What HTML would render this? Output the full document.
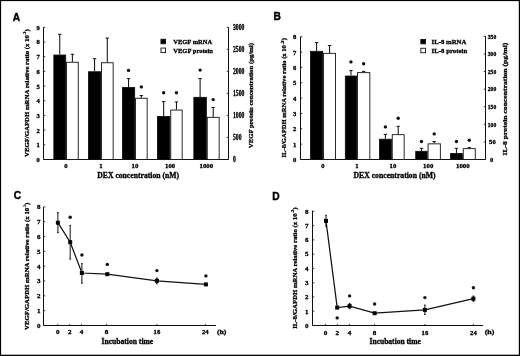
<!DOCTYPE html>
<html><head><meta charset="utf-8"><style>
html,body{margin:0;padding:0;background:#fff;}
.wrap{width:520px;height:356px;position:relative;overflow:hidden;background:#fff;}
svg{display:block;will-change:transform;}
</style></head><body><div class="wrap">
<svg width="520" height="356" viewBox="0 0 520 356">
<rect x="0" y="0" width="520" height="356" fill="#fff"/>
<text x="12.8" y="20.6" font-size="10.2" font-family="&quot;Liberation Sans&quot;, sans-serif" font-weight="bold" stroke="#000" stroke-width="0.45">A</text>
<line x1="43.50" y1="27.30" x2="43.50" y2="159.50" stroke="#111" stroke-width="1"/>
<line x1="43.50" y1="159.50" x2="228.50" y2="159.50" stroke="#111" stroke-width="1"/>
<line x1="228.50" y1="27.30" x2="228.50" y2="159.50" stroke="#111" stroke-width="1"/>
<line x1="43.50" y1="159.50" x2="45.30" y2="159.50" stroke="#111" stroke-width="0.8"/>
<text x="39.9" y="162.0" font-size="6.6" text-anchor="end" font-family="&quot;Liberation Serif&quot;, serif" font-weight="bold" fill="#000" stroke="#000" stroke-width="0.3">0</text>
<line x1="43.50" y1="144.81" x2="45.30" y2="144.81" stroke="#111" stroke-width="0.8"/>
<text x="39.9" y="147.31" font-size="6.6" text-anchor="end" font-family="&quot;Liberation Serif&quot;, serif" font-weight="bold" fill="#000" stroke="#000" stroke-width="0.3">1</text>
<line x1="43.50" y1="130.12" x2="45.30" y2="130.12" stroke="#111" stroke-width="0.8"/>
<text x="39.9" y="132.62" font-size="6.6" text-anchor="end" font-family="&quot;Liberation Serif&quot;, serif" font-weight="bold" fill="#000" stroke="#000" stroke-width="0.3">2</text>
<line x1="43.50" y1="115.43" x2="45.30" y2="115.43" stroke="#111" stroke-width="0.8"/>
<text x="39.9" y="117.93" font-size="6.6" text-anchor="end" font-family="&quot;Liberation Serif&quot;, serif" font-weight="bold" fill="#000" stroke="#000" stroke-width="0.3">3</text>
<line x1="43.50" y1="100.74" x2="45.30" y2="100.74" stroke="#111" stroke-width="0.8"/>
<text x="39.9" y="103.24" font-size="6.6" text-anchor="end" font-family="&quot;Liberation Serif&quot;, serif" font-weight="bold" fill="#000" stroke="#000" stroke-width="0.3">4</text>
<line x1="43.50" y1="86.06" x2="45.30" y2="86.06" stroke="#111" stroke-width="0.8"/>
<text x="39.9" y="88.56" font-size="6.6" text-anchor="end" font-family="&quot;Liberation Serif&quot;, serif" font-weight="bold" fill="#000" stroke="#000" stroke-width="0.3">5</text>
<line x1="43.50" y1="71.37" x2="45.30" y2="71.37" stroke="#111" stroke-width="0.8"/>
<text x="39.9" y="73.87" font-size="6.6" text-anchor="end" font-family="&quot;Liberation Serif&quot;, serif" font-weight="bold" fill="#000" stroke="#000" stroke-width="0.3">6</text>
<line x1="43.50" y1="56.68" x2="45.30" y2="56.68" stroke="#111" stroke-width="0.8"/>
<text x="39.9" y="59.18" font-size="6.6" text-anchor="end" font-family="&quot;Liberation Serif&quot;, serif" font-weight="bold" fill="#000" stroke="#000" stroke-width="0.3">7</text>
<line x1="43.50" y1="41.99" x2="45.30" y2="41.99" stroke="#111" stroke-width="0.8"/>
<text x="39.9" y="44.49" font-size="6.6" text-anchor="end" font-family="&quot;Liberation Serif&quot;, serif" font-weight="bold" fill="#000" stroke="#000" stroke-width="0.3">8</text>
<line x1="43.50" y1="27.30" x2="45.30" y2="27.30" stroke="#111" stroke-width="0.8"/>
<text x="39.9" y="29.8" font-size="6.6" text-anchor="end" font-family="&quot;Liberation Serif&quot;, serif" font-weight="bold" fill="#000" stroke="#000" stroke-width="0.3">9</text>
<line x1="226.70" y1="159.50" x2="228.50" y2="159.50" stroke="#111" stroke-width="0.8"/>
<text x="233.0" y="162.0" font-size="7.2" text-anchor="start" textLength="2.83" lengthAdjust="spacingAndGlyphs" font-family="&quot;Liberation Serif&quot;, serif" font-weight="bold" fill="#000" stroke="#000" stroke-width="0.3">0</text>
<line x1="226.70" y1="137.47" x2="228.50" y2="137.47" stroke="#111" stroke-width="0.8"/>
<text x="233.0" y="139.97" font-size="7.2" text-anchor="start" textLength="8.49" lengthAdjust="spacingAndGlyphs" font-family="&quot;Liberation Serif&quot;, serif" font-weight="bold" fill="#000" stroke="#000" stroke-width="0.3">500</text>
<line x1="226.70" y1="115.43" x2="228.50" y2="115.43" stroke="#111" stroke-width="0.8"/>
<text x="233.0" y="117.93" font-size="7.2" text-anchor="start" textLength="11.32" lengthAdjust="spacingAndGlyphs" font-family="&quot;Liberation Serif&quot;, serif" font-weight="bold" fill="#000" stroke="#000" stroke-width="0.3">1000</text>
<line x1="226.70" y1="93.40" x2="228.50" y2="93.40" stroke="#111" stroke-width="0.8"/>
<text x="233.0" y="95.9" font-size="7.2" text-anchor="start" textLength="11.32" lengthAdjust="spacingAndGlyphs" font-family="&quot;Liberation Serif&quot;, serif" font-weight="bold" fill="#000" stroke="#000" stroke-width="0.3">1500</text>
<line x1="226.70" y1="71.37" x2="228.50" y2="71.37" stroke="#111" stroke-width="0.8"/>
<text x="233.0" y="73.87" font-size="7.2" text-anchor="start" textLength="11.32" lengthAdjust="spacingAndGlyphs" font-family="&quot;Liberation Serif&quot;, serif" font-weight="bold" fill="#000" stroke="#000" stroke-width="0.3">2000</text>
<line x1="226.70" y1="49.33" x2="228.50" y2="49.33" stroke="#111" stroke-width="0.8"/>
<text x="233.0" y="51.83" font-size="7.2" text-anchor="start" textLength="11.32" lengthAdjust="spacingAndGlyphs" font-family="&quot;Liberation Serif&quot;, serif" font-weight="bold" fill="#000" stroke="#000" stroke-width="0.3">2500</text>
<line x1="226.70" y1="27.30" x2="228.50" y2="27.30" stroke="#111" stroke-width="0.8"/>
<text x="233.0" y="29.8" font-size="7.2" text-anchor="start" textLength="11.32" lengthAdjust="spacingAndGlyphs" font-family="&quot;Liberation Serif&quot;, serif" font-weight="bold" fill="#000" stroke="#000" stroke-width="0.3">3000</text>
<line x1="59.75" y1="54.60" x2="59.75" y2="34.30" stroke="#111" stroke-width="1.05"/>
<line x1="58.05" y1="34.30" x2="61.45" y2="34.30" stroke="#111" stroke-width="1.0"/>
<line x1="72.40" y1="61.80" x2="72.40" y2="54.30" stroke="#111" stroke-width="1.05"/>
<line x1="70.70" y1="54.30" x2="74.10" y2="54.30" stroke="#111" stroke-width="1.0"/>
<rect x="53.85" y="55.05" width="11.80" height="104.50" fill="#000" stroke="#111" stroke-width="0.9"/>
<rect x="66.55" y="62.25" width="11.70" height="97.30" fill="#fff" stroke="#111" stroke-width="0.9"/>
<line x1="94.55" y1="71.30" x2="94.55" y2="58.70" stroke="#111" stroke-width="1.05"/>
<line x1="92.85" y1="58.70" x2="96.25" y2="58.70" stroke="#111" stroke-width="1.0"/>
<line x1="107.30" y1="62.30" x2="107.30" y2="38.10" stroke="#111" stroke-width="1.05"/>
<line x1="105.60" y1="38.10" x2="109.00" y2="38.10" stroke="#111" stroke-width="1.0"/>
<rect x="88.55" y="71.75" width="12.00" height="87.80" fill="#000" stroke="#111" stroke-width="0.9"/>
<rect x="101.45" y="62.75" width="11.70" height="96.80" fill="#fff" stroke="#111" stroke-width="0.9"/>
<line x1="128.55" y1="87.10" x2="128.55" y2="78.60" stroke="#111" stroke-width="1.05"/>
<line x1="126.85" y1="78.60" x2="130.25" y2="78.60" stroke="#111" stroke-width="1.0"/>
<line x1="141.35" y1="97.80" x2="141.35" y2="95.60" stroke="#111" stroke-width="1.05"/>
<line x1="139.65" y1="95.60" x2="143.05" y2="95.60" stroke="#111" stroke-width="1.0"/>
<rect x="122.45" y="87.55" width="12.20" height="72.00" fill="#000" stroke="#111" stroke-width="0.9"/>
<rect x="135.55" y="98.25" width="11.60" height="61.30" fill="#fff" stroke="#111" stroke-width="0.9"/>
<circle cx="128.55" cy="70.40" r="1.7" fill="#111"/>
<circle cx="141.35" cy="86.90" r="1.7" fill="#111"/>
<line x1="163.65" y1="116.00" x2="163.65" y2="101.60" stroke="#111" stroke-width="1.05"/>
<line x1="161.95" y1="101.60" x2="165.35" y2="101.60" stroke="#111" stroke-width="1.0"/>
<line x1="176.45" y1="109.60" x2="176.45" y2="101.90" stroke="#111" stroke-width="1.05"/>
<line x1="174.75" y1="101.90" x2="178.15" y2="101.90" stroke="#111" stroke-width="1.0"/>
<rect x="157.45" y="116.45" width="12.40" height="43.10" fill="#000" stroke="#111" stroke-width="0.9"/>
<rect x="170.75" y="110.05" width="11.40" height="49.50" fill="#fff" stroke="#111" stroke-width="0.9"/>
<circle cx="163.65" cy="92.80" r="1.7" fill="#111"/>
<circle cx="176.45" cy="92.80" r="1.7" fill="#111"/>
<line x1="200.10" y1="96.90" x2="200.10" y2="78.60" stroke="#111" stroke-width="1.05"/>
<line x1="198.40" y1="78.60" x2="201.80" y2="78.60" stroke="#111" stroke-width="1.0"/>
<line x1="213.20" y1="116.90" x2="213.20" y2="107.50" stroke="#111" stroke-width="1.05"/>
<line x1="211.50" y1="107.50" x2="214.90" y2="107.50" stroke="#111" stroke-width="1.0"/>
<rect x="193.85" y="97.35" width="12.50" height="62.20" fill="#000" stroke="#111" stroke-width="0.9"/>
<rect x="207.25" y="117.35" width="11.90" height="42.20" fill="#fff" stroke="#111" stroke-width="0.9"/>
<circle cx="200.10000000000002" cy="70.10" r="1.7" fill="#111"/>
<circle cx="213.2" cy="99.60" r="1.7" fill="#111"/>
<text x="66" y="167.8" font-size="6.6" text-anchor="middle" font-family="&quot;Liberation Serif&quot;, serif" font-weight="bold" fill="#000" stroke="#000" stroke-width="0.3">0</text>
<text x="100.8" y="167.8" font-size="6.6" text-anchor="middle" font-family="&quot;Liberation Serif&quot;, serif" font-weight="bold" fill="#000" stroke="#000" stroke-width="0.3">1</text>
<text x="135" y="167.8" font-size="6.6" text-anchor="middle" textLength="6.8" lengthAdjust="spacingAndGlyphs" font-family="&quot;Liberation Serif&quot;, serif" font-weight="bold" fill="#000" stroke="#000" stroke-width="0.3">10</text>
<text x="170.1" y="167.8" font-size="6.6" text-anchor="middle" textLength="10.2" lengthAdjust="spacingAndGlyphs" font-family="&quot;Liberation Serif&quot;, serif" font-weight="bold" fill="#000" stroke="#000" stroke-width="0.3">100</text>
<text x="206.3" y="167.8" font-size="6.6" text-anchor="middle" textLength="13.6" lengthAdjust="spacingAndGlyphs" font-family="&quot;Liberation Serif&quot;, serif" font-weight="bold" fill="#000" stroke="#000" stroke-width="0.3">1000</text>
<text x="97.3" y="177.7" font-size="7.5" text-anchor="start" textLength="81.7" lengthAdjust="spacingAndGlyphs" font-family="&quot;Liberation Serif&quot;, serif" font-weight="bold" fill="#000" stroke="#000" stroke-width="0.3">DEX concentration (nM)</text>
<rect x="160.95" y="39.25" width="4.60" height="4.50" fill="#000" stroke="#111" stroke-width="0.9"/>
<rect x="160.95" y="48.05" width="4.60" height="4.50" fill="#fff" stroke="#111" stroke-width="0.9"/>
<text x="173.3" y="44.2" font-size="7.0" text-anchor="start" textLength="38.9" lengthAdjust="spacingAndGlyphs" font-family="&quot;Liberation Serif&quot;, serif" font-weight="bold" fill="#000" stroke="#000" stroke-width="0.3">VEGF mRNA</text>
<text x="173.3" y="52.7" font-size="7.0" text-anchor="start" textLength="39.6" lengthAdjust="spacingAndGlyphs" font-family="&quot;Liberation Serif&quot;, serif" font-weight="bold" fill="#000" stroke="#000" stroke-width="0.3">VEGF protein</text>
<text x="29.0" y="157.0" font-size="6.8" text-anchor="start" textLength="121.9" lengthAdjust="spacingAndGlyphs" transform="rotate(-90 29.0 157.0)" font-family="&quot;Liberation Serif&quot;, serif" font-weight="bold" fill="#000" stroke="#000" stroke-width="0.3">VEGF/GAPDH mRNA relative ratio (x 10</text>
<text x="26.3" y="34.6" font-size="4.6" text-anchor="start" textLength="2.8999999999999915" lengthAdjust="spacingAndGlyphs" transform="rotate(-90 26.3 34.599999999999994)" font-family="&quot;Liberation Serif&quot;, serif" font-weight="bold" fill="#000" stroke="#000" stroke-width="0.3">-3</text>
<text x="29.0" y="31.5" font-size="6.8" text-anchor="start" textLength="2.3" lengthAdjust="spacingAndGlyphs" transform="rotate(-90 29.0 31.5)" font-family="&quot;Liberation Serif&quot;, serif" font-weight="bold" fill="#000" stroke="#000" stroke-width="0.3">)</text>
<text x="253.5" y="148.2" font-size="6.7" text-anchor="start" textLength="105.1" lengthAdjust="spacingAndGlyphs" transform="rotate(-90 253.5 148.2)" font-family="&quot;Liberation Serif&quot;, serif" font-weight="bold" fill="#000" stroke="#000" stroke-width="0.3">VEGF protein concentration (pg/ml)</text>
<text x="273.5" y="20.3" font-size="10.2" font-family="&quot;Liberation Sans&quot;, sans-serif" font-weight="bold" stroke="#000" stroke-width="0.45">B</text>
<line x1="300.50" y1="36.70" x2="300.50" y2="159.50" stroke="#111" stroke-width="1"/>
<line x1="300.50" y1="159.50" x2="485.50" y2="159.50" stroke="#111" stroke-width="1"/>
<line x1="485.50" y1="36.20" x2="485.50" y2="159.50" stroke="#111" stroke-width="1"/>
<line x1="300.50" y1="159.50" x2="302.30" y2="159.50" stroke="#111" stroke-width="0.8"/>
<text x="296.2" y="162.0" font-size="6.6" text-anchor="end" font-family="&quot;Liberation Serif&quot;, serif" font-weight="bold" fill="#000" stroke="#000" stroke-width="0.3">0</text>
<line x1="300.50" y1="144.15" x2="302.30" y2="144.15" stroke="#111" stroke-width="0.8"/>
<text x="296.2" y="146.65" font-size="6.6" text-anchor="end" font-family="&quot;Liberation Serif&quot;, serif" font-weight="bold" fill="#000" stroke="#000" stroke-width="0.3">1</text>
<line x1="300.50" y1="128.80" x2="302.30" y2="128.80" stroke="#111" stroke-width="0.8"/>
<text x="296.2" y="131.3" font-size="6.6" text-anchor="end" font-family="&quot;Liberation Serif&quot;, serif" font-weight="bold" fill="#000" stroke="#000" stroke-width="0.3">2</text>
<line x1="300.50" y1="113.45" x2="302.30" y2="113.45" stroke="#111" stroke-width="0.8"/>
<text x="296.2" y="115.95" font-size="6.6" text-anchor="end" font-family="&quot;Liberation Serif&quot;, serif" font-weight="bold" fill="#000" stroke="#000" stroke-width="0.3">3</text>
<line x1="300.50" y1="98.10" x2="302.30" y2="98.10" stroke="#111" stroke-width="0.8"/>
<text x="296.2" y="100.6" font-size="6.6" text-anchor="end" font-family="&quot;Liberation Serif&quot;, serif" font-weight="bold" fill="#000" stroke="#000" stroke-width="0.3">4</text>
<line x1="300.50" y1="82.75" x2="302.30" y2="82.75" stroke="#111" stroke-width="0.8"/>
<text x="296.2" y="85.25" font-size="6.6" text-anchor="end" font-family="&quot;Liberation Serif&quot;, serif" font-weight="bold" fill="#000" stroke="#000" stroke-width="0.3">5</text>
<line x1="300.50" y1="67.40" x2="302.30" y2="67.40" stroke="#111" stroke-width="0.8"/>
<text x="296.2" y="69.9" font-size="6.6" text-anchor="end" font-family="&quot;Liberation Serif&quot;, serif" font-weight="bold" fill="#000" stroke="#000" stroke-width="0.3">6</text>
<line x1="300.50" y1="52.05" x2="302.30" y2="52.05" stroke="#111" stroke-width="0.8"/>
<text x="296.2" y="54.55" font-size="6.6" text-anchor="end" font-family="&quot;Liberation Serif&quot;, serif" font-weight="bold" fill="#000" stroke="#000" stroke-width="0.3">7</text>
<line x1="300.50" y1="36.70" x2="302.30" y2="36.70" stroke="#111" stroke-width="0.8"/>
<text x="296.2" y="39.2" font-size="6.6" text-anchor="end" font-family="&quot;Liberation Serif&quot;, serif" font-weight="bold" fill="#000" stroke="#000" stroke-width="0.3">8</text>
<line x1="483.70" y1="159.50" x2="485.50" y2="159.50" stroke="#111" stroke-width="0.8"/>
<text x="490.0" y="161.7" font-size="6.4" text-anchor="start" font-family="&quot;Liberation Serif&quot;, serif" font-weight="bold" fill="#000" stroke="#000" stroke-width="0.3">0</text>
<line x1="483.70" y1="141.91" x2="485.50" y2="141.91" stroke="#111" stroke-width="0.8"/>
<text x="489.1" y="144.11" font-size="6.4" text-anchor="start" textLength="6.6" lengthAdjust="spacingAndGlyphs" font-family="&quot;Liberation Serif&quot;, serif" font-weight="bold" fill="#000" stroke="#000" stroke-width="0.3">50</text>
<line x1="483.70" y1="124.33" x2="485.50" y2="124.33" stroke="#111" stroke-width="0.8"/>
<text x="487.8" y="126.53" font-size="6.4" text-anchor="start" textLength="8.4" lengthAdjust="spacingAndGlyphs" font-family="&quot;Liberation Serif&quot;, serif" font-weight="bold" fill="#000" stroke="#000" stroke-width="0.3">100</text>
<line x1="483.70" y1="106.74" x2="485.50" y2="106.74" stroke="#111" stroke-width="0.8"/>
<text x="487.8" y="108.94" font-size="6.4" text-anchor="start" textLength="8.4" lengthAdjust="spacingAndGlyphs" font-family="&quot;Liberation Serif&quot;, serif" font-weight="bold" fill="#000" stroke="#000" stroke-width="0.3">150</text>
<line x1="483.70" y1="89.16" x2="485.50" y2="89.16" stroke="#111" stroke-width="0.8"/>
<text x="487.8" y="91.36" font-size="6.4" text-anchor="start" textLength="8.4" lengthAdjust="spacingAndGlyphs" font-family="&quot;Liberation Serif&quot;, serif" font-weight="bold" fill="#000" stroke="#000" stroke-width="0.3">200</text>
<line x1="483.70" y1="71.57" x2="485.50" y2="71.57" stroke="#111" stroke-width="0.8"/>
<text x="487.8" y="73.77" font-size="6.4" text-anchor="start" textLength="8.4" lengthAdjust="spacingAndGlyphs" font-family="&quot;Liberation Serif&quot;, serif" font-weight="bold" fill="#000" stroke="#000" stroke-width="0.3">250</text>
<line x1="483.70" y1="53.99" x2="485.50" y2="53.99" stroke="#111" stroke-width="0.8"/>
<text x="487.8" y="56.19" font-size="6.4" text-anchor="start" textLength="8.4" lengthAdjust="spacingAndGlyphs" font-family="&quot;Liberation Serif&quot;, serif" font-weight="bold" fill="#000" stroke="#000" stroke-width="0.3">300</text>
<line x1="483.70" y1="36.40" x2="485.50" y2="36.40" stroke="#111" stroke-width="0.8"/>
<text x="487.8" y="38.6" font-size="6.4" text-anchor="start" textLength="8.4" lengthAdjust="spacingAndGlyphs" font-family="&quot;Liberation Serif&quot;, serif" font-weight="bold" fill="#000" stroke="#000" stroke-width="0.3">350</text>
<line x1="316.60" y1="50.90" x2="316.60" y2="42.60" stroke="#111" stroke-width="1.05"/>
<line x1="314.90" y1="42.60" x2="318.30" y2="42.60" stroke="#111" stroke-width="1.0"/>
<line x1="329.55" y1="52.90" x2="329.55" y2="45.50" stroke="#111" stroke-width="1.05"/>
<line x1="327.85" y1="45.50" x2="331.25" y2="45.50" stroke="#111" stroke-width="1.0"/>
<rect x="310.55" y="51.35" width="12.10" height="108.20" fill="#000" stroke="#111" stroke-width="0.9"/>
<rect x="323.55" y="53.35" width="12.00" height="106.20" fill="#fff" stroke="#111" stroke-width="0.9"/>
<line x1="350.95" y1="75.60" x2="350.95" y2="70.60" stroke="#111" stroke-width="1.05"/>
<line x1="349.25" y1="70.60" x2="352.65" y2="70.60" stroke="#111" stroke-width="1.0"/>
<line x1="363.65" y1="72.20" x2="363.65" y2="71.40" stroke="#111" stroke-width="1.05"/>
<line x1="361.95" y1="71.40" x2="365.35" y2="71.40" stroke="#111" stroke-width="1.0"/>
<rect x="345.35" y="76.05" width="11.20" height="83.50" fill="#000" stroke="#111" stroke-width="0.9"/>
<rect x="357.45" y="72.65" width="12.40" height="86.90" fill="#fff" stroke="#111" stroke-width="0.9"/>
<circle cx="350.95" cy="61.90" r="1.7" fill="#111"/>
<circle cx="363.65" cy="63.70" r="1.7" fill="#111"/>
<line x1="385.40" y1="138.80" x2="385.40" y2="134.40" stroke="#111" stroke-width="1.05"/>
<line x1="383.70" y1="134.40" x2="387.10" y2="134.40" stroke="#111" stroke-width="1.0"/>
<line x1="398.20" y1="134.20" x2="398.20" y2="126.30" stroke="#111" stroke-width="1.05"/>
<line x1="396.50" y1="126.30" x2="399.90" y2="126.30" stroke="#111" stroke-width="1.0"/>
<rect x="379.45" y="139.25" width="11.90" height="20.30" fill="#000" stroke="#111" stroke-width="0.9"/>
<rect x="392.25" y="134.65" width="11.90" height="24.90" fill="#fff" stroke="#111" stroke-width="0.9"/>
<circle cx="385.4" cy="126.90" r="1.7" fill="#111"/>
<circle cx="398.20000000000005" cy="118.20" r="1.7" fill="#111"/>
<line x1="421.45" y1="150.90" x2="421.45" y2="148.30" stroke="#111" stroke-width="1.05"/>
<line x1="419.75" y1="148.30" x2="423.15" y2="148.30" stroke="#111" stroke-width="1.0"/>
<line x1="434.20" y1="143.40" x2="434.20" y2="141.50" stroke="#111" stroke-width="1.05"/>
<line x1="432.50" y1="141.50" x2="435.90" y2="141.50" stroke="#111" stroke-width="1.0"/>
<rect x="415.75" y="151.35" width="11.40" height="8.20" fill="#000" stroke="#111" stroke-width="0.9"/>
<rect x="428.05" y="143.85" width="12.30" height="15.70" fill="#fff" stroke="#111" stroke-width="0.9"/>
<circle cx="421.45000000000005" cy="141.50" r="1.7" fill="#111"/>
<circle cx="434.20000000000005" cy="133.90" r="1.7" fill="#111"/>
<line x1="456.45" y1="153.10" x2="456.45" y2="148.30" stroke="#111" stroke-width="1.05"/>
<line x1="454.75" y1="148.30" x2="458.15" y2="148.30" stroke="#111" stroke-width="1.0"/>
<line x1="469.25" y1="148.20" x2="469.25" y2="147.60" stroke="#111" stroke-width="1.05"/>
<line x1="467.55" y1="147.60" x2="470.95" y2="147.60" stroke="#111" stroke-width="1.0"/>
<rect x="450.55" y="153.55" width="11.80" height="6.00" fill="#000" stroke="#111" stroke-width="0.9"/>
<rect x="463.25" y="148.65" width="12.00" height="10.90" fill="#fff" stroke="#111" stroke-width="0.9"/>
<circle cx="456.45000000000005" cy="141.50" r="1.7" fill="#111"/>
<circle cx="469.25" cy="140.20" r="1.7" fill="#111"/>
<text x="323" y="167.6" font-size="6.6" text-anchor="middle" font-family="&quot;Liberation Serif&quot;, serif" font-weight="bold" fill="#000" stroke="#000" stroke-width="0.3">0</text>
<text x="357.0" y="167.6" font-size="6.6" text-anchor="middle" font-family="&quot;Liberation Serif&quot;, serif" font-weight="bold" fill="#000" stroke="#000" stroke-width="0.3">1</text>
<text x="393.0" y="167.6" font-size="6.6" text-anchor="middle" textLength="6.8" lengthAdjust="spacingAndGlyphs" font-family="&quot;Liberation Serif&quot;, serif" font-weight="bold" fill="#000" stroke="#000" stroke-width="0.3">10</text>
<text x="428.2" y="167.6" font-size="6.6" text-anchor="middle" textLength="10.2" lengthAdjust="spacingAndGlyphs" font-family="&quot;Liberation Serif&quot;, serif" font-weight="bold" fill="#000" stroke="#000" stroke-width="0.3">100</text>
<text x="462.8" y="167.6" font-size="6.6" text-anchor="middle" textLength="13.6" lengthAdjust="spacingAndGlyphs" font-family="&quot;Liberation Serif&quot;, serif" font-weight="bold" fill="#000" stroke="#000" stroke-width="0.3">1000</text>
<text x="353.5" y="177.6" font-size="7.5" text-anchor="start" textLength="82.1" lengthAdjust="spacingAndGlyphs" font-family="&quot;Liberation Serif&quot;, serif" font-weight="bold" fill="#000" stroke="#000" stroke-width="0.3">DEX concentration (nM)</text>
<rect x="420.85" y="39.45" width="4.70" height="4.40" fill="#000" stroke="#111" stroke-width="0.9"/>
<rect x="420.85" y="48.25" width="4.70" height="4.50" fill="#fff" stroke="#111" stroke-width="0.9"/>
<text x="431.6" y="44.0" font-size="7.0" text-anchor="start" textLength="34.8" lengthAdjust="spacingAndGlyphs" font-family="&quot;Liberation Serif&quot;, serif" font-weight="bold" fill="#000" stroke="#000" stroke-width="0.3">IL-8 mRNA</text>
<text x="431.6" y="52.6" font-size="7.0" text-anchor="start" textLength="35.6" lengthAdjust="spacingAndGlyphs" font-family="&quot;Liberation Serif&quot;, serif" font-weight="bold" fill="#000" stroke="#000" stroke-width="0.3">IL-8 protein</text>
<text x="286.4" y="157.5" font-size="6.8" text-anchor="start" textLength="112.4" lengthAdjust="spacingAndGlyphs" transform="rotate(-90 286.4 157.5)" font-family="&quot;Liberation Serif&quot;, serif" font-weight="bold" fill="#000" stroke="#000" stroke-width="0.3">IL-8/GAPDH mRNA relative ratio (x 10</text>
<text x="283.7" y="44.6" font-size="4.6" text-anchor="start" textLength="4.199999999999996" lengthAdjust="spacingAndGlyphs" transform="rotate(-90 283.7 44.599999999999994)" font-family="&quot;Liberation Serif&quot;, serif" font-weight="bold" fill="#000" stroke="#000" stroke-width="0.3">-3</text>
<text x="286.4" y="40.2" font-size="6.8" text-anchor="start" textLength="2.3" lengthAdjust="spacingAndGlyphs" transform="rotate(-90 286.4 40.199999999999996)" font-family="&quot;Liberation Serif&quot;, serif" font-weight="bold" fill="#000" stroke="#000" stroke-width="0.3">)</text>
<text x="507.0" y="155.6" font-size="7.1" text-anchor="start" textLength="113" lengthAdjust="spacingAndGlyphs" transform="rotate(-90 507.0 155.6)" font-family="&quot;Liberation Serif&quot;, serif" font-weight="bold" fill="#000" stroke="#000" stroke-width="0.3">IL-8 protein concentration (pg/ml)</text>
<text x="13.7" y="198.8" font-size="10.2" font-family="&quot;Liberation Sans&quot;, sans-serif" font-weight="bold" stroke="#000" stroke-width="0.45">C</text>
<line x1="43.50" y1="206.90" x2="43.50" y2="325.50" stroke="#111" stroke-width="1"/>
<line x1="43.50" y1="325.50" x2="216.00" y2="325.50" stroke="#111" stroke-width="1"/>
<line x1="43.50" y1="325.50" x2="45.30" y2="325.50" stroke="#111" stroke-width="0.8"/>
<text x="40.5" y="327.9" font-size="7.0" text-anchor="end" font-family="&quot;Liberation Serif&quot;, serif" font-weight="bold" fill="#000" stroke="#000" stroke-width="0.3">0</text>
<line x1="43.50" y1="310.68" x2="45.30" y2="310.68" stroke="#111" stroke-width="0.8"/>
<text x="40.5" y="313.07" font-size="7.0" text-anchor="end" font-family="&quot;Liberation Serif&quot;, serif" font-weight="bold" fill="#000" stroke="#000" stroke-width="0.3">1</text>
<line x1="43.50" y1="295.85" x2="45.30" y2="295.85" stroke="#111" stroke-width="0.8"/>
<text x="40.5" y="298.25" font-size="7.0" text-anchor="end" font-family="&quot;Liberation Serif&quot;, serif" font-weight="bold" fill="#000" stroke="#000" stroke-width="0.3">2</text>
<line x1="43.50" y1="281.02" x2="45.30" y2="281.02" stroke="#111" stroke-width="0.8"/>
<text x="40.5" y="283.42" font-size="7.0" text-anchor="end" font-family="&quot;Liberation Serif&quot;, serif" font-weight="bold" fill="#000" stroke="#000" stroke-width="0.3">3</text>
<line x1="43.50" y1="266.20" x2="45.30" y2="266.20" stroke="#111" stroke-width="0.8"/>
<text x="40.5" y="268.6" font-size="7.0" text-anchor="end" font-family="&quot;Liberation Serif&quot;, serif" font-weight="bold" fill="#000" stroke="#000" stroke-width="0.3">4</text>
<line x1="43.50" y1="251.38" x2="45.30" y2="251.38" stroke="#111" stroke-width="0.8"/>
<text x="40.5" y="253.78" font-size="7.0" text-anchor="end" font-family="&quot;Liberation Serif&quot;, serif" font-weight="bold" fill="#000" stroke="#000" stroke-width="0.3">5</text>
<line x1="43.50" y1="236.55" x2="45.30" y2="236.55" stroke="#111" stroke-width="0.8"/>
<text x="40.5" y="238.95" font-size="7.0" text-anchor="end" font-family="&quot;Liberation Serif&quot;, serif" font-weight="bold" fill="#000" stroke="#000" stroke-width="0.3">6</text>
<line x1="43.50" y1="221.73" x2="45.30" y2="221.73" stroke="#111" stroke-width="0.8"/>
<text x="40.5" y="224.13" font-size="7.0" text-anchor="end" font-family="&quot;Liberation Serif&quot;, serif" font-weight="bold" fill="#000" stroke="#000" stroke-width="0.3">7</text>
<line x1="43.50" y1="206.90" x2="45.30" y2="206.90" stroke="#111" stroke-width="0.8"/>
<text x="40.5" y="209.3" font-size="7.0" text-anchor="end" font-family="&quot;Liberation Serif&quot;, serif" font-weight="bold" fill="#000" stroke="#000" stroke-width="0.3">8</text>
<line x1="57.80" y1="325.50" x2="57.80" y2="323.90" stroke="#111" stroke-width="0.8"/>
<text x="57.8" y="334.2" font-size="7.1" text-anchor="middle" font-family="&quot;Liberation Serif&quot;, serif" font-weight="bold" fill="#000" stroke="#000" stroke-width="0.3">0</text>
<line x1="57.90" y1="212.60" x2="57.90" y2="232.60" stroke="#111" stroke-width="1.0"/>
<line x1="57.00" y1="212.60" x2="58.80" y2="212.60" stroke="#111" stroke-width="0.9"/>
<line x1="57.00" y1="232.60" x2="58.80" y2="232.60" stroke="#111" stroke-width="0.9"/>
<line x1="69.70" y1="325.50" x2="69.70" y2="323.90" stroke="#111" stroke-width="0.8"/>
<text x="69.7" y="334.2" font-size="7.1" text-anchor="middle" font-family="&quot;Liberation Serif&quot;, serif" font-weight="bold" fill="#000" stroke="#000" stroke-width="0.3">2</text>
<line x1="70.20" y1="225.40" x2="70.20" y2="259.10" stroke="#111" stroke-width="1.0"/>
<line x1="69.30" y1="225.40" x2="71.10" y2="225.40" stroke="#111" stroke-width="0.9"/>
<line x1="69.30" y1="259.10" x2="71.10" y2="259.10" stroke="#111" stroke-width="0.9"/>
<circle cx="70.2" cy="217.30" r="1.7" fill="#111"/>
<line x1="81.50" y1="325.50" x2="81.50" y2="323.90" stroke="#111" stroke-width="0.8"/>
<text x="81.5" y="334.2" font-size="7.1" text-anchor="middle" font-family="&quot;Liberation Serif&quot;, serif" font-weight="bold" fill="#000" stroke="#000" stroke-width="0.3">4</text>
<line x1="81.90" y1="263.60" x2="81.90" y2="283.20" stroke="#111" stroke-width="1.0"/>
<line x1="81.00" y1="263.60" x2="82.80" y2="263.60" stroke="#111" stroke-width="0.9"/>
<line x1="81.00" y1="283.20" x2="82.80" y2="283.20" stroke="#111" stroke-width="0.9"/>
<circle cx="81.9" cy="255.00" r="1.7" fill="#111"/>
<line x1="106.50" y1="325.50" x2="106.50" y2="323.90" stroke="#111" stroke-width="0.8"/>
<text x="106.5" y="334.2" font-size="7.1" text-anchor="middle" font-family="&quot;Liberation Serif&quot;, serif" font-weight="bold" fill="#000" stroke="#000" stroke-width="0.3">8</text>
<circle cx="107.3" cy="264.40" r="1.7" fill="#111"/>
<line x1="156.90" y1="325.50" x2="156.90" y2="323.90" stroke="#111" stroke-width="0.8"/>
<text x="156.9" y="334.2" font-size="7.1" text-anchor="middle" textLength="6.7" lengthAdjust="spacingAndGlyphs" font-family="&quot;Liberation Serif&quot;, serif" font-weight="bold" fill="#000" stroke="#000" stroke-width="0.3">16</text>
<line x1="156.90" y1="278.00" x2="156.90" y2="283.80" stroke="#111" stroke-width="1.0"/>
<line x1="156.00" y1="278.00" x2="157.80" y2="278.00" stroke="#111" stroke-width="0.9"/>
<line x1="156.00" y1="283.80" x2="157.80" y2="283.80" stroke="#111" stroke-width="0.9"/>
<circle cx="156.9" cy="270.60" r="1.7" fill="#111"/>
<line x1="205.30" y1="325.50" x2="205.30" y2="323.90" stroke="#111" stroke-width="0.8"/>
<text x="205.3" y="334.2" font-size="7.1" text-anchor="middle" textLength="6.7" lengthAdjust="spacingAndGlyphs" font-family="&quot;Liberation Serif&quot;, serif" font-weight="bold" fill="#000" stroke="#000" stroke-width="0.3">24</text>
<circle cx="205.9" cy="275.90" r="1.7" fill="#111"/>
<polyline points="57.9,222.7 70.2,242.2 81.9,273.0 107.3,274.2 156.9,280.8 205.9,284.4" fill="none" stroke="#111" stroke-width="1.25"/>
<rect x="55.90" y="220.70" width="4.0" height="4.0" fill="#000"/>
<rect x="68.20" y="240.20" width="4.0" height="4.0" fill="#000"/>
<rect x="79.90" y="271.00" width="4.0" height="4.0" fill="#000"/>
<rect x="105.30" y="272.20" width="4.0" height="4.0" fill="#000"/>
<rect x="154.90" y="278.80" width="4.0" height="4.0" fill="#000"/>
<rect x="203.90" y="282.40" width="4.0" height="4.0" fill="#000"/>
<text x="216.9" y="334.4" font-size="6.9" text-anchor="start" textLength="9.5" lengthAdjust="spacingAndGlyphs" font-family="&quot;Liberation Serif&quot;, serif" font-weight="bold" fill="#000" stroke="#000" stroke-width="0.3">(h)</text>
<text x="101.5" y="343.9" font-size="7.5" text-anchor="start" textLength="51.7" lengthAdjust="spacingAndGlyphs" font-family="&quot;Liberation Serif&quot;, serif" font-weight="bold" fill="#000" stroke="#000" stroke-width="0.3">Incubation time</text>
<text x="28.8" y="330.0" font-size="6.8" text-anchor="start" textLength="122.2" lengthAdjust="spacingAndGlyphs" transform="rotate(-90 28.8 330.0)" font-family="&quot;Liberation Serif&quot;, serif" font-weight="bold" fill="#000" stroke="#000" stroke-width="0.3">VEGF/GAPDH mRNA relative ratio (x 10</text>
<text x="26.1" y="207.3" font-size="4.6" text-anchor="start" textLength="2.1000000000000227" lengthAdjust="spacingAndGlyphs" transform="rotate(-90 26.1 207.3)" font-family="&quot;Liberation Serif&quot;, serif" font-weight="bold" fill="#000" stroke="#000" stroke-width="0.3">-3</text>
<text x="28.8" y="205.0" font-size="6.8" text-anchor="start" textLength="2.3" lengthAdjust="spacingAndGlyphs" transform="rotate(-90 28.8 205.0)" font-family="&quot;Liberation Serif&quot;, serif" font-weight="bold" fill="#000" stroke="#000" stroke-width="0.3">)</text>
<text x="272.2" y="199.6" font-size="10.2" font-family="&quot;Liberation Sans&quot;, sans-serif" font-weight="bold" stroke="#000" stroke-width="0.45">D</text>
<line x1="312.50" y1="210.60" x2="312.50" y2="325.50" stroke="#111" stroke-width="1"/>
<line x1="312.50" y1="325.50" x2="483.10" y2="325.50" stroke="#111" stroke-width="1"/>
<line x1="312.50" y1="325.50" x2="314.30" y2="325.50" stroke="#111" stroke-width="0.8"/>
<text x="308.4" y="327.8" font-size="7.0" text-anchor="end" font-family="&quot;Liberation Serif&quot;, serif" font-weight="bold" fill="#000" stroke="#000" stroke-width="0.3">0</text>
<line x1="312.50" y1="311.24" x2="314.30" y2="311.24" stroke="#111" stroke-width="0.8"/>
<text x="308.4" y="313.54" font-size="7.0" text-anchor="end" font-family="&quot;Liberation Serif&quot;, serif" font-weight="bold" fill="#000" stroke="#000" stroke-width="0.3">1</text>
<line x1="312.50" y1="296.98" x2="314.30" y2="296.98" stroke="#111" stroke-width="0.8"/>
<text x="308.4" y="299.28" font-size="7.0" text-anchor="end" font-family="&quot;Liberation Serif&quot;, serif" font-weight="bold" fill="#000" stroke="#000" stroke-width="0.3">2</text>
<line x1="312.50" y1="282.71" x2="314.30" y2="282.71" stroke="#111" stroke-width="0.8"/>
<text x="308.4" y="285.01" font-size="7.0" text-anchor="end" font-family="&quot;Liberation Serif&quot;, serif" font-weight="bold" fill="#000" stroke="#000" stroke-width="0.3">3</text>
<line x1="312.50" y1="268.45" x2="314.30" y2="268.45" stroke="#111" stroke-width="0.8"/>
<text x="308.4" y="270.75" font-size="7.0" text-anchor="end" font-family="&quot;Liberation Serif&quot;, serif" font-weight="bold" fill="#000" stroke="#000" stroke-width="0.3">4</text>
<line x1="312.50" y1="254.19" x2="314.30" y2="254.19" stroke="#111" stroke-width="0.8"/>
<text x="308.4" y="256.49" font-size="7.0" text-anchor="end" font-family="&quot;Liberation Serif&quot;, serif" font-weight="bold" fill="#000" stroke="#000" stroke-width="0.3">5</text>
<line x1="312.50" y1="239.93" x2="314.30" y2="239.93" stroke="#111" stroke-width="0.8"/>
<text x="308.4" y="242.23" font-size="7.0" text-anchor="end" font-family="&quot;Liberation Serif&quot;, serif" font-weight="bold" fill="#000" stroke="#000" stroke-width="0.3">6</text>
<line x1="312.50" y1="225.66" x2="314.30" y2="225.66" stroke="#111" stroke-width="0.8"/>
<text x="308.4" y="227.96" font-size="7.0" text-anchor="end" font-family="&quot;Liberation Serif&quot;, serif" font-weight="bold" fill="#000" stroke="#000" stroke-width="0.3">7</text>
<line x1="312.50" y1="211.40" x2="314.30" y2="211.40" stroke="#111" stroke-width="0.8"/>
<text x="308.4" y="213.7" font-size="7.0" text-anchor="end" font-family="&quot;Liberation Serif&quot;, serif" font-weight="bold" fill="#000" stroke="#000" stroke-width="0.3">8</text>
<line x1="325.40" y1="325.50" x2="325.40" y2="323.90" stroke="#111" stroke-width="0.8"/>
<text x="325.4" y="334.7" font-size="7.1" text-anchor="middle" font-family="&quot;Liberation Serif&quot;, serif" font-weight="bold" fill="#000" stroke="#000" stroke-width="0.3">0</text>
<line x1="326.00" y1="215.30" x2="326.00" y2="226.30" stroke="#111" stroke-width="1.0"/>
<line x1="325.10" y1="215.30" x2="326.90" y2="215.30" stroke="#111" stroke-width="0.9"/>
<line x1="325.10" y1="226.30" x2="326.90" y2="226.30" stroke="#111" stroke-width="0.9"/>
<line x1="337.30" y1="325.50" x2="337.30" y2="323.90" stroke="#111" stroke-width="0.8"/>
<text x="337.3" y="334.7" font-size="7.1" text-anchor="middle" font-family="&quot;Liberation Serif&quot;, serif" font-weight="bold" fill="#000" stroke="#000" stroke-width="0.3">2</text>
<circle cx="337.2" cy="317.90" r="1.7" fill="#111"/>
<line x1="349.40" y1="325.50" x2="349.40" y2="323.90" stroke="#111" stroke-width="0.8"/>
<text x="349.4" y="334.7" font-size="7.1" text-anchor="middle" font-family="&quot;Liberation Serif&quot;, serif" font-weight="bold" fill="#000" stroke="#000" stroke-width="0.3">4</text>
<line x1="349.60" y1="303.50" x2="349.60" y2="308.70" stroke="#111" stroke-width="1.0"/>
<line x1="348.70" y1="303.50" x2="350.50" y2="303.50" stroke="#111" stroke-width="0.9"/>
<line x1="348.70" y1="308.70" x2="350.50" y2="308.70" stroke="#111" stroke-width="0.9"/>
<circle cx="349.6" cy="295.90" r="1.7" fill="#111"/>
<line x1="374.50" y1="325.50" x2="374.50" y2="323.90" stroke="#111" stroke-width="0.8"/>
<text x="374.5" y="334.7" font-size="7.1" text-anchor="middle" font-family="&quot;Liberation Serif&quot;, serif" font-weight="bold" fill="#000" stroke="#000" stroke-width="0.3">8</text>
<circle cx="374.6" cy="304.00" r="1.7" fill="#111"/>
<line x1="424.90" y1="325.50" x2="424.90" y2="323.90" stroke="#111" stroke-width="0.8"/>
<text x="424.9" y="334.7" font-size="7.1" text-anchor="middle" textLength="6.7" lengthAdjust="spacingAndGlyphs" font-family="&quot;Liberation Serif&quot;, serif" font-weight="bold" fill="#000" stroke="#000" stroke-width="0.3">16</text>
<line x1="424.90" y1="305.10" x2="424.90" y2="314.40" stroke="#111" stroke-width="1.0"/>
<line x1="424.00" y1="305.10" x2="425.80" y2="305.10" stroke="#111" stroke-width="0.9"/>
<line x1="424.00" y1="314.40" x2="425.80" y2="314.40" stroke="#111" stroke-width="0.9"/>
<circle cx="424.9" cy="297.60" r="1.7" fill="#111"/>
<line x1="473.40" y1="325.50" x2="473.40" y2="323.90" stroke="#111" stroke-width="0.8"/>
<text x="473.4" y="334.7" font-size="7.1" text-anchor="middle" textLength="6.7" lengthAdjust="spacingAndGlyphs" font-family="&quot;Liberation Serif&quot;, serif" font-weight="bold" fill="#000" stroke="#000" stroke-width="0.3">24</text>
<line x1="473.40" y1="296.00" x2="473.40" y2="301.40" stroke="#111" stroke-width="1.0"/>
<line x1="472.50" y1="296.00" x2="474.30" y2="296.00" stroke="#111" stroke-width="0.9"/>
<line x1="472.50" y1="301.40" x2="474.30" y2="301.40" stroke="#111" stroke-width="0.9"/>
<circle cx="473.4" cy="287.80" r="1.7" fill="#111"/>
<polyline points="326.0,220.9 337.2,307.6 349.6,306.1 374.6,313.2 424.9,309.9 473.4,298.7" fill="none" stroke="#111" stroke-width="1.25"/>
<rect x="324.00" y="218.90" width="4.0" height="4.0" fill="#000"/>
<rect x="335.20" y="305.60" width="4.0" height="4.0" fill="#000"/>
<rect x="347.60" y="304.10" width="4.0" height="4.0" fill="#000"/>
<rect x="372.60" y="311.20" width="4.0" height="4.0" fill="#000"/>
<rect x="422.90" y="307.90" width="4.0" height="4.0" fill="#000"/>
<rect x="471.40" y="296.70" width="4.0" height="4.0" fill="#000"/>
<text x="484.7" y="334.4" font-size="6.9" text-anchor="start" textLength="9.6" lengthAdjust="spacingAndGlyphs" font-family="&quot;Liberation Serif&quot;, serif" font-weight="bold" fill="#000" stroke="#000" stroke-width="0.3">(h)</text>
<text x="369.5" y="343.9" font-size="7.5" text-anchor="start" textLength="51.3" lengthAdjust="spacingAndGlyphs" font-family="&quot;Liberation Serif&quot;, serif" font-weight="bold" fill="#000" stroke="#000" stroke-width="0.3">Incubation time</text>
<text x="296.8" y="328.8" font-size="6.8" text-anchor="start" textLength="115.4" lengthAdjust="spacingAndGlyphs" transform="rotate(-90 296.8 328.8)" font-family="&quot;Liberation Serif&quot;, serif" font-weight="bold" fill="#000" stroke="#000" stroke-width="0.3">IL-8/GAPDH mRNA relative ratio (x 10</text>
<text x="294.1" y="212.9" font-size="4.6" text-anchor="start" textLength="3.0" lengthAdjust="spacingAndGlyphs" transform="rotate(-90 294.1 212.9)" font-family="&quot;Liberation Serif&quot;, serif" font-weight="bold" fill="#000" stroke="#000" stroke-width="0.3">-3</text>
<text x="296.8" y="209.7" font-size="6.8" text-anchor="start" textLength="2.3" lengthAdjust="spacingAndGlyphs" transform="rotate(-90 296.8 209.70000000000002)" font-family="&quot;Liberation Serif&quot;, serif" font-weight="bold" fill="#000" stroke="#000" stroke-width="0.3">)</text>
<rect x="0" y="0" width="520" height="1.1" fill="#000"/>
<rect x="0" y="0" width="1.1" height="356" fill="#000"/>
<rect x="518.8" y="0" width="1.2" height="356" fill="#000"/>
<rect x="0" y="354.7" width="520" height="1.3" fill="#000"/>
</svg></div></body></html>
